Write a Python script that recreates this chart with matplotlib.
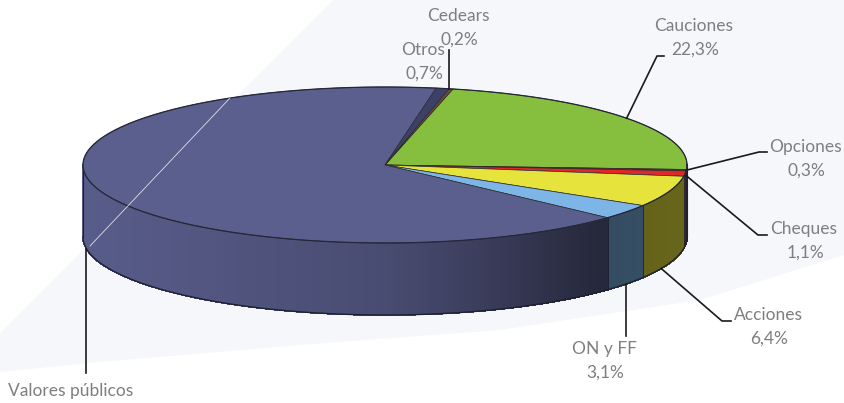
import numpy as np
import matplotlib.pyplot as plt
from matplotlib.collections import PolyCollection
from matplotlib.patches import Polygon

# ---- data (share of volume, %) ----
labels = ["Cauciones", "Opciones", "Cheques", "Acciones", "ON y FF",
          "Valores públicos", "Otros", "Cedears"]
shares = [22.3, 0.3, 1.1, 6.4, 3.1, 65.9, 0.7, 0.2]
pct_text = ["22,3%", "0,3%", "1,1%", "6,4%", "3,1%", "", "0,7%", "0,2%"]
colors = ["#86bf3e", "#8a1c1c", "#e3262a", "#e6e33c", "#7cb5e6",
          "#5b5f8e", "#3d4068", "#6a4a3a"]

# ---- pie geometry (pixel units) ----
cx, cy = 385, 165
ra, rb = 302, 78
depth = 72
start = 77.0   # first slice starts here, slices run clockwise

plt.rcParams['font.family'] = ['Lato', 'DejaVu Sans']
fig = plt.figure(figsize=(8.44, 4.03), dpi=100)
ax = fig.add_axes([0, 0, 1, 1])
ax.set_xlim(0, 844)
ax.set_ylim(403, 0)
ax.axis('off')

# faint backdrop
ax.add_patch(Polygon([(333, 0), (844, 0), (844, 255), (700, 300), (500, 330),
                      (300, 345), (100, 362), (0, 372), (0, 333)],
                     closed=True, facecolor="#f6f7fa", edgecolor="none", zorder=0))


def ell(t, dy=0):
    t = np.radians(t)
    return cx + ra * np.cos(t), cy - rb * np.sin(t) + dy


def shade(t):
    c = np.cos(np.radians(t))
    return np.interp(c, [-1, 0, 0.4, 0.7, 1], [0.97, 0.8, 0.6, 0.42, 0.45])


def darker(col, f):
    rgb = np.array(plt.matplotlib.colors.to_rgb(col))
    return tuple(rgb * f)


angles = start - np.cumsum([0] + shares) * 3.6
bounds = list(zip(angles[:-1], angles[1:]))

# ---- side walls (front half only) ----
polys, fcs = [], []
for (t1, t2), col in zip(bounds, colors):
    ts = np.linspace(t1, t2, max(int(abs(t1 - t2) / 0.5) + 2, 2))
    for a0, a1 in zip(ts[:-1], ts[1:]):
        if np.sin(np.radians((a0 + a1) / 2)) >= 0:
            continue
        x0, y0 = ell(a0)
        x1, y1 = ell(a1)
        polys.append([(x0, y0), (x1, y1), (x1, y1 + depth), (x0, y0 + depth)])
        fcs.append(darker(col, shade((a0 + a1) / 2)))
ax.add_collection(PolyCollection(polys, facecolors=fcs, edgecolors="face",
                                 linewidths=0.6, antialiased=False, zorder=2))

# side outlines
tf = np.linspace(180, 360, 300)
bx, by = ell(tf, depth)
ax.plot(bx, by, color="#1e2033", lw=1.0, zorder=3)
for t in [180, 360]:
    x, y = ell(t)
    ax.plot([x, x], [y, y + depth], color="#1e2033", lw=0.8, zorder=3)
for t in angles:
    if np.sin(np.radians(t)) < 0:
        x, y = ell(t)
        ax.plot([x, x], [y, y + depth], color="#1e2033", lw=0.6, zorder=3)

# ---- top faces ----
for (t1, t2), col in zip(bounds, colors):
    ts = np.linspace(t1, t2, max(int(abs(t1 - t2)) + 2, 2))
    xs, ys = ell(ts)
    pts = [(cx, cy)] + list(zip(xs, ys))
    ax.add_patch(Polygon(pts, closed=True, facecolor=col, edgecolor="#2a2a2a",
                         lw=0.5, zorder=4))
tt = np.linspace(0, 360, 400)
ex, ey = ell(tt)
ax.plot(ex, ey, color="#26283a", lw=0.9, zorder=5)

# thin light reflection crossing the pie
ax.plot([230, 90], [98, 246], color="white", lw=0.6, alpha=0.8, zorder=6)

# ---- labels and leaders ----
txt = dict(color="#7f7f7f", fontsize=12.5, ha="center", va="center", zorder=7)
lead = dict(color="#1a1a1a", lw=1.2, zorder=6)

lab_pos = {
    "Cauciones": (694, 26),
    "Opciones": (805, 147),
    "Cheques": (804, 229),
    "Acciones": (768, 315),
    "ON y FF": (604, 349),
    "Otros": (423, 50),
    "Cedears": (458, 16),
}
for name, pct in zip(labels, pct_text):
    if name in lab_pos:
        x, y = lab_pos[name]
        ax.text(x, y, name, **txt)
        ax.text(x + 1, y + 24, pct, **txt)
ax.text(8, 391, "Valores públicos", color="#7f7f7f", fontsize=12.5,
        ha="left", va="center", zorder=7)


def mid(i):
    return (bounds[i][0] + bounds[i][1]) / 2


# Cauciones
x, y = ell(mid(0))
ax.plot([x, 657, 664], [y, 56, 56], **lead)
# Opciones
x, y = ell(mid(1))
ax.plot([x, 759, 767], [y, 152, 152], **lead)
# Cheques
x, y = ell(mid(2))
ax.plot([x + 1, 758, 767], [y + 2, 235, 235], **lead)
# Acciones
x, y = ell(mid(3) - 4, depth)
ax.plot([x, 722, 731], [y, 321, 321], **lead)
# ON y FF
x, y = ell(mid(4), depth)
ax.plot([x, x], [y, 336], **lead)
# Otros / Cedears
x, y = ell(angles[-2])
ax.plot([x, x], [y, 50], **lead)
# Valores públicos
x, y = ell(180 + 8.5, depth)
ax.plot([x, x], [y, 373], **lead)

fig.savefig("out.png", dpi=100)
